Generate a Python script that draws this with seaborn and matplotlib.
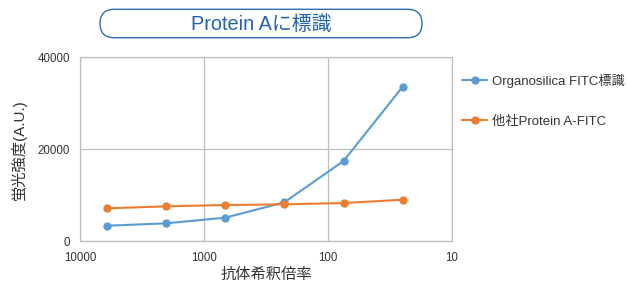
import matplotlib
matplotlib.use("Agg")
import matplotlib.pyplot as plt
from matplotlib.patches import FancyBboxPatch
from matplotlib.ticker import FixedLocator, FixedFormatter, NullLocator
import seaborn as sns
import pandas as pd

# dilution factors (x) and fluorescence (A.U.)
dilution = [6075, 2025, 675, 225, 75, 25]
organosilica = [3330, 3850, 5080, 8430, 17420, 33610]
other_company = [7120, 7550, 7840, 7990, 8270, 8990]
series_names = ["Organosilica FITC標識", "他社Protein A-FITC"]
x_ticks = [10000, 1000, 100, 10]
x_tick_labels = ["10000", "1000", "100", "10"]
y_ticks = [0, 20000, 40000]

df = pd.DataFrame({
    "dilution": dilution * 2,
    "value": organosilica + other_company,
    "series": [series_names[0]] * len(dilution) + [series_names[1]] * len(dilution),
})

sns.set_style("white")
plt.rcParams["font.family"] = ["Liberation Sans", "Noto Sans CJK JP"]

fig = plt.figure(figsize=(6.27, 2.89), dpi=100)
ax = fig.add_axes([0.1276, 0.166, 0.5934, 0.6357])

sns.lineplot(
    data=df, x="dilution", y="value", hue="series",
    palette=["#5b9bd5", "#ed7d31"], marker="o", markersize=6,
    markeredgewidth=0, linewidth=1.5, ax=ax,
)

ax.set_xscale("log")
ax.set_xlim(10000, 10)
ax.set_ylim(0, 40000)
ax.xaxis.set_major_locator(FixedLocator(x_ticks))
ax.xaxis.set_major_formatter(FixedFormatter(x_tick_labels))
ax.xaxis.set_minor_locator(NullLocator())
ax.set_yticks(y_ticks)
ax.set_yticklabels([str(v) for v in y_ticks])
ax.grid(True, color="#bfbfbf", linewidth=0.9)
ax.tick_params(length=0, labelsize=8.3, colors="#333333")
ax.tick_params(axis="x", pad=8)
ax.tick_params(axis="y", pad=7)
for side in ["left", "bottom", "top", "right"]:
    ax.spines[side].set_color("#bfbfbf")
    ax.spines[side].set_linewidth(0.9)

ax.set_xlabel("抗体希釈倍率", fontsize=11, color="#333333", labelpad=3)
ax.set_ylabel("蛍光強度(A.U.)", fontsize=11, color="#333333", labelpad=8)

handles, labels = ax.get_legend_handles_labels()
ax.legend(
    handles, labels, loc="upper left", bbox_to_anchor=(0.718, 0.786),
    bbox_transform=fig.transFigure, frameon=False, fontsize=9.5,
    labelspacing=2.1, handlelength=1.9, handletextpad=0.35,
    labelcolor="#333333",
)

# title box
box = FancyBboxPatch(
    (1.00, 2.513), 3.22, 0.284,
    boxstyle="round,pad=0,rounding_size=0.142",
    transform=fig.dpi_scale_trans, facecolor="white",
    edgecolor="#2e6db4", linewidth=1.0,
)
fig.patches.append(box)
fig.text(0.416, 0.917, "Protein Aに標識", ha="center", va="center",
         fontsize=14.3, color="#1f63b5")

fig.savefig("out.png", dpi=100)
